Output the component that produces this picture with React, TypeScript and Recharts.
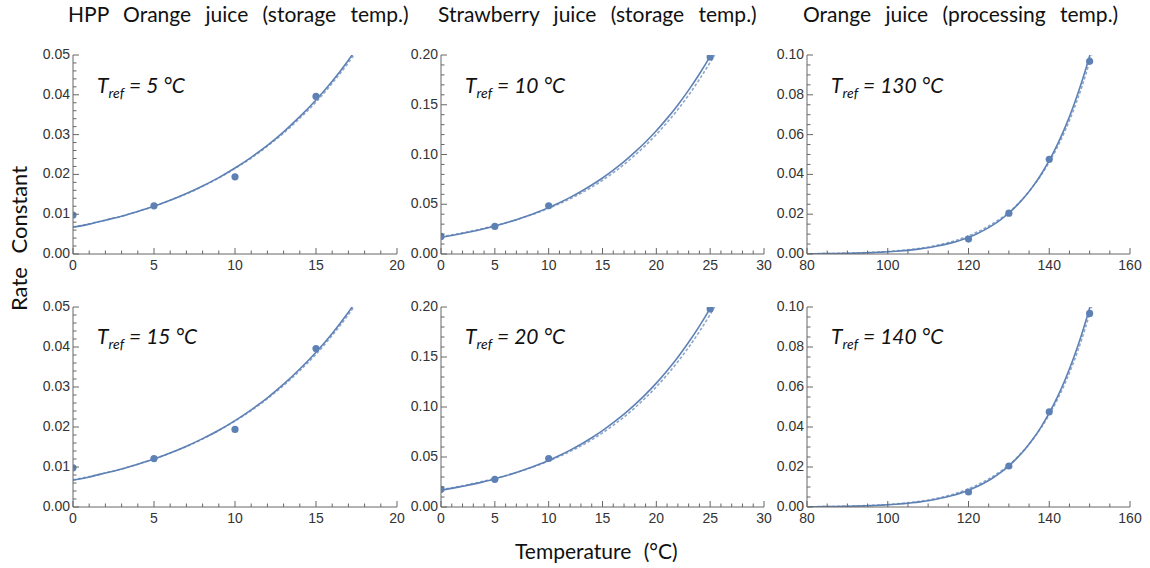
import { ComposedChart, Line, Scatter, XAxis, YAxis } from 'recharts'

const BLUE = '#5e81b5'
const FRAME = '#666666'
const TICK_TEXT = '#333333'

// HPP orange juice, storage temperature
const hppTemps = [0, 5, 10, 15]
const hppRates = [0.0098, 0.0121, 0.0194, 0.0396]
const hppCurveT = [0, 1, 2, 3, 4, 5, 6, 7, 8, 9, 10, 11, 12, 13, 14, 15, 16, 17, 18]
const hppCurveK = [
  0.0067, 0.0075, 0.0085, 0.0095, 0.0107, 0.012, 0.0135, 0.0152, 0.0171, 0.0192, 0.0216, 0.0243,
  0.0273, 0.0307, 0.0345, 0.0387, 0.0434, 0.0487, 0.0546,
]
const hppDashK = [
  0.0068, 0.0076, 0.0085, 0.0095, 0.0107, 0.012, 0.0135, 0.0151, 0.017, 0.0191, 0.0215, 0.0241,
  0.0271, 0.0304, 0.0341, 0.0382, 0.0429, 0.0481, 0.0539,
]
const hppXTicks = [0, 5, 10, 15, 20]
const hppYTicks = [0, 0.01, 0.02, 0.03, 0.04, 0.05]

// strawberry juice, storage temperature
const strawTemps = [0, 5, 10, 25]
const strawRates = [0.0177, 0.0277, 0.0485, 0.198]
const strawCurveT = [
  0, 1, 2, 3, 4, 5, 6, 7, 8, 9, 10, 11, 12, 13, 14, 15, 16, 17, 18, 19, 20, 21, 22, 23, 24, 25, 26,
]
const strawCurveK = [
  0.0168, 0.0186, 0.0207, 0.0229, 0.0254, 0.0281, 0.0312, 0.0345, 0.0382, 0.0422, 0.0466, 0.0515,
  0.0569, 0.0628, 0.0693, 0.0764, 0.0843, 0.0928, 0.1023, 0.1126, 0.1239, 0.1363, 0.1498, 0.1647,
  0.1809, 0.1986, 0.218,
]
const strawDashK = [
  0.0173, 0.0192, 0.0212, 0.0235, 0.0259, 0.0285, 0.0313, 0.0345, 0.038, 0.0418, 0.046, 0.0506,
  0.0556, 0.0611, 0.0672, 0.0741, 0.0817, 0.09, 0.0992, 0.1092, 0.1202, 0.1322, 0.1453, 0.1597,
  0.1755, 0.1926, 0.2115,
]
const strawXTicks = [0, 5, 10, 15, 20, 25, 30]
const strawYTicks = [0, 0.05, 0.1, 0.15, 0.2]

// orange juice, processing temperature
const ojTemps = [120, 130, 140, 150]
const ojRates = [0.0075, 0.0205, 0.0476, 0.0968]
const ojCurveT = [
  80, 82, 84, 86, 88, 90, 92, 94, 96, 98, 100, 102, 104, 106, 108, 110, 112, 114, 116, 118, 120, 122,
  124, 126, 128, 130, 132, 134, 136, 138, 140, 142, 144, 146, 148, 150, 152,
]
const ojCurveK = [
  0.000108, 0.000138, 0.000176, 0.000224, 0.000284, 0.000359, 0.000452, 0.000568, 0.000711, 0.000888,
  0.001106, 0.001372, 0.001698, 0.002095, 0.002576, 0.003159, 0.003862, 0.004708, 0.005722, 0.006933,
  0.008375, 0.010087, 0.012113, 0.014502, 0.01731, 0.0206, 0.024442, 0.028913, 0.0341, 0.040096,
  0.047005, 0.054943, 0.064026, 0.07439, 0.086168, 0.099512, 0.114587,
]
const ojDashT = [80, 84, 88, 92, 96, 100, 104, 108, 112, 116, 120, 124, 128, 130, 132, 136, 140, 144, 148, 152]
const ojDashK = [
  0.000125, 0.000203, 0.000326, 0.000517, 0.000808, 0.00125, 0.00191, 0.00288, 0.00429, 0.00629,
  0.0091, 0.0129, 0.0179, 0.0209, 0.0247, 0.034, 0.0462, 0.0623, 0.0836, 0.111,
]
const ojXTicks = [80, 100, 120, 140, 160]
const ojYTicks = [0, 0.02, 0.04, 0.06, 0.08, 0.1]

const titles = [
  'HPP Orange juice (storage temp.)',
  'Strawberry juice (storage temp.)',
  'Orange juice (processing temp.)',
]
const trefRow1 = ['5', '10', '130']
const trefRow2 = ['15', '20', '140']

const zip = (ts: number[], ks: number[]) => ts.map((t, i) => ({ t, k: ks[i] }))

const minors = (majors: number[], parts: number) => {
  const out: number[] = []
  for (let i = 0; i < majors.length - 1; i++) {
    const step = (majors[i + 1] - majors[i]) / parts
    for (let j = 1; j < parts; j++) out.push(majors[i] + step * j)
  }
  return out
}

type PanelDef = {
  points: { t: number; k: number }[]
  curve: { t: number; k: number }[]
  dash: { t: number; k: number }[]
  xTicks: number[]
  yTicks: number[]
  xParts: number
  yParts: number
}

const panels: PanelDef[] = [
  {
    points: zip(hppTemps, hppRates),
    curve: zip(hppCurveT, hppCurveK),
    dash: zip(hppCurveT, hppDashK),
    xTicks: hppXTicks,
    yTicks: hppYTicks,
    xParts: 5,
    yParts: 5,
  },
  {
    points: zip(strawTemps, strawRates),
    curve: zip(strawCurveT, strawCurveK),
    dash: zip(strawCurveT, strawDashK),
    xTicks: strawXTicks,
    yTicks: strawYTicks,
    xParts: 5,
    yParts: 5,
  },
  {
    points: zip(ojTemps, ojRates),
    curve: zip(ojCurveT, ojCurveK),
    dash: zip(ojDashT, ojDashK),
    xTicks: ojXTicks,
    yTicks: ojYTicks,
    xParts: 4,
    yParts: 4,
  },
]

const plotLefts = [73, 441, 807]
const plotWidths = [324, 323, 323]
const rowTops = [55, 307]
const rowHeights = [199, 200]

const isMajor = (v: number, majors: number[]) => majors.some((m) => Math.abs(m - v) < 1e-9)

const makeTick = (side: 'bottom' | 'top' | 'left' | 'right', majors: number[]) => (props: any) => {
  const { x, y, payload } = props
  const v = payload.value as number
  const major = isMajor(v, majors)
  const len = major ? 6 : 3.5
  const textStyle = { fontFamily: '"Liberation Sans", Arial, sans-serif', fontSize: 14, fill: TICK_TEXT }
  if (side === 'bottom') {
    return (
      <g>
        <line x1={x} y1={y} x2={x} y2={y - len} stroke={FRAME} strokeWidth={1} />
        {major && (
          <text x={x} y={y + 16} textAnchor="middle" style={textStyle}>
            {Math.round(v)}
          </text>
        )}
      </g>
    )
  }
  if (side === 'top') return <line x1={x} y1={y} x2={x} y2={y + len} stroke={FRAME} strokeWidth={1} />
  if (side === 'right') return <line x1={x} y1={y} x2={x - len} y2={y} stroke={FRAME} strokeWidth={1} />
  return (
    <g>
      <line x1={x} y1={y} x2={x + len} y2={y} stroke={FRAME} strokeWidth={1} />
      {major && (
        <text x={x - 3} y={y + 4} textAnchor="end" style={textStyle}>
          {v.toFixed(2)}
        </text>
      )}
    </g>
  )
}

const Dot = (props: any) => <circle cx={props.cx} cy={props.cy} r={3.6} fill={BLUE} />

function Panel({ def, left, top, w, h }: { def: PanelDef; left: number; top: number; w: number; h: number }) {
  const xAll = [...def.xTicks, ...minors(def.xTicks, def.xParts)]
  const yAll = [...def.yTicks, ...minors(def.yTicks, def.yParts)]
  const xDomain = [def.xTicks[0], def.xTicks[def.xTicks.length - 1]]
  const yDomain = [def.yTicks[0], def.yTicks[def.yTicks.length - 1]]
  const mTop = 12
  const mRight = 12
  const yW = 50
  const xH = 24
  return (
    <div style={{ position: 'absolute', left: left - yW, top: top - mTop }}>
      <ComposedChart
        width={w + yW + mRight}
        height={h + mTop + xH}
        margin={{ top: mTop, right: mRight, bottom: 0, left: 0 }}
      >
        <XAxis
          dataKey="t"
          type="number"
          domain={xDomain}
          allowDataOverflow
          ticks={xAll}
          interval={0}
          tickSize={0}
          tickMargin={0}
          tickLine={false}
          height={xH}
          axisLine={{ stroke: FRAME }}
          tick={makeTick('bottom', def.xTicks)}
        />
        <XAxis
          xAxisId="top"
          orientation="top"
          type="number"
          domain={xDomain}
          ticks={xAll}
          interval={0}
          tickSize={0}
          tickMargin={0}
          tickLine={false}
          height={0}
          axisLine={{ stroke: FRAME }}
          tick={makeTick('top', def.xTicks)}
        />
        <YAxis
          dataKey="k"
          type="number"
          domain={yDomain}
          allowDataOverflow
          ticks={yAll}
          interval={0}
          tickSize={0}
          tickMargin={0}
          tickLine={false}
          width={yW}
          axisLine={{ stroke: FRAME }}
          tick={makeTick('left', def.yTicks)}
        />
        <YAxis
          yAxisId="right"
          orientation="right"
          type="number"
          domain={yDomain}
          ticks={yAll}
          interval={0}
          tickSize={0}
          tickMargin={0}
          tickLine={false}
          width={0}
          axisLine={{ stroke: FRAME }}
          tick={makeTick('right', def.yTicks)}
        />
        <Line
          data={def.dash}
          dataKey="k"
          type="monotone"
          stroke={BLUE}
          strokeOpacity={0.7}
          strokeWidth={1.6}
          strokeDasharray="3 2"
          dot={false}
          isAnimationActive={false}
        />
        <Line
          data={def.curve}
          dataKey="k"
          type="monotone"
          stroke={BLUE}
          strokeWidth={1.6}
          dot={false}
          isAnimationActive={false}
        />
        <Scatter data={def.points} dataKey="k" fill={BLUE} shape={<Dot />} isAnimationActive={false} />
      </ComposedChart>
    </div>
  )
}

const labelFont = 'Lato, "Open Sans", sans-serif'

function Tref({ x, y, value }: { x: number; y: number; value: string }) {
  return (
    <text x={x} y={y} style={{ fontFamily: labelFont, fontStyle: 'italic', fontSize: 21, fill: '#111' }}>
      T
      <tspan dy={5} style={{ fontSize: 14 }}>
        ref
      </tspan>
      <tspan dy={-5}>{` = ${value} °C`}</tspan>
    </text>
  )
}

export default function App() {
  const titleX = [68, 438, 803]
  return (
    <div style={{ position: 'absolute', left: 0, top: 0, width: 1150, height: 568, background: '#fff' }}>
      {rowTops.map((top, r) =>
        panels.map((def, c) => (
          <Panel key={`${r}-${c}`} def={def} left={plotLefts[c]} top={top} w={plotWidths[c]} h={rowHeights[r]} />
        ))
      )}
      <svg width={1150} height={568} style={{ position: 'absolute', left: 0, top: 0, pointerEvents: 'none' }}>
        {titles.map((t, i) => (
          <text key={t} x={titleX[i]} y={22} style={{ fontFamily: labelFont, fontSize: 21, fill: '#111', wordSpacing: 9 }}>
            {t}
          </text>
        ))}
        {trefRow1.map((v, i) => (
          <Tref key={`a${v}`} x={plotLefts[i] + 24} y={93} value={v} />
        ))}
        {trefRow2.map((v, i) => (
          <Tref key={`b${v}`} x={plotLefts[i] + 24} y={344} value={v} />
        ))}
        <text
          transform="translate(27 311) rotate(-90)"
          style={{ fontFamily: labelFont, fontSize: 22, fill: '#111', wordSpacing: 8 }}
        >
          Rate Constant
        </text>
        <text x={515} y={559} style={{ fontFamily: labelFont, fontSize: 21, fill: '#111', wordSpacing: 7 }}>
          Temperature (°C)
        </text>
      </svg>
    </div>
  )
}
